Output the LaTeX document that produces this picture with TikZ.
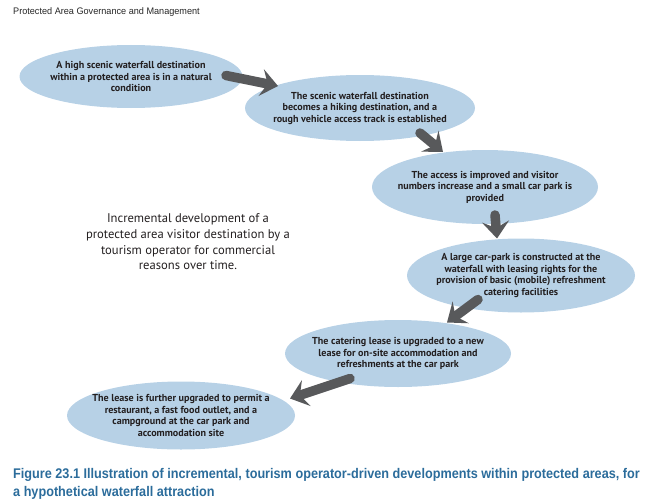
\documentclass[tikz,border=0pt]{standalone}
\usepackage{fontspec}
\setmainfont{PT Sans}
\newfontfamily\hdrfont[FakeStretch=0.96]{Liberation Sans}
\newfontfamily\capfont[FakeStretch=0.905]{Liberation Sans}
\usetikzlibrary{shapes.geometric,arrows.meta,calc}
\definecolor{bubblefill}{RGB}{183,209,230}
\definecolor{arrowgray}{RGB}{88,89,91}
\definecolor{capblue}{RGB}{43,108,155}
\definecolor{txtcol}{RGB}{35,31,32}
\begin{document}
\begin{tikzpicture}[x=1pt,y=-1pt,
  bubble/.style 2 args={ellipse, fill=bubblefill, draw=none, inner sep=0pt, minimum width=#1, minimum height=#2},
  bubtext/.style={align=center, inner sep=0pt, text=txtcol, font=\fontsize{10.1}{11.5}\selectfont\bfseries},
  flow/.style={draw=arrowgray, fill=arrowgray, line width=9.5pt, line cap=round, -{Stealth[length=17pt,width=27pt,inset=6.5pt]}},
  every node/.style={inner sep=0pt}]
\useasboundingbox (0,0) rectangle (647,503);

% header
\node[anchor=base west, font=\hdrfont\fontsize{9.5}{11}\selectfont, text=black!85] (hdr) at (13,15) {Protected Area Governance and Management};

% bubbles
\node[bubble={223pt}{63pt}] (e1) at (131,76.5) {};
\node[bubble={230pt}{66pt}] (e2) at (360,108) {};
\node[bubble={226pt}{74pt}] (e3) at (485,187) {};
\node[bubble={228pt}{74pt}] (e4) at (521,275.5) {};
\node[bubble={226pt}{67pt}] (e5) at (398,353.5) {};
\node[bubble={228pt}{68pt}] (e6) at (181,415.5) {};

\node[bubtext] (t1) at (e1) {A high scenic waterfall destination\\within a protected area is in a natural\\condition};
\node[bubtext] (t2) at (e2) {The scenic waterfall destination\\becomes a hiking destination, and a\\rough vehicle access track is established};
\node[bubtext] (t3) at (e3) {The access is improved and visitor\\numbers increase and a small car park is\\provided};
\node[bubtext] (t4) at (e4) {A large car-park is constructed at the\\waterfall with leasing rights for the\\provision of basic (mobile) refreshment\\catering facilities};
\node[bubtext] (t5) at (e5) {The catering lease is upgraded to a new\\lease for on-site accommodation and\\refreshments at the car park};
\node[bubtext] (t6) at (e6) {The lease is further upgraded to permit a\\restaurant, a fast food outlet, and a\\campground at the car park and\\accommodation site};

% arrows
\draw[flow] ($(e1.center)+(95,-1)$) -- ($(e2.center)+(-82,-22)$);
\draw[flow] ($(e2.center)+(60,25)$) -- ($(e3.center)+(-42,-35)$);
\draw[flow] ($(e3.center)+(10,28)$) -- ($(e4.center)+(-24,-37)$);
\draw[flow] ($(e4.center)+(-43,24)$) -- ($(e5.center)+(49,-31)$);
\draw[flow] ($(e5.center)+(-48,25)$) -- ($(e6.center)+(109,-17)$);

% description
\node[align=center, text=txtcol, font=\fontsize{12.6}{15.7}\selectfont] (desc) at (188,242) {Incremental development of a\\protected area visitor destination by a\\tourism operator for commercial\\reasons over time.};

% caption
\node[anchor=base west, text=capblue, font=\capfont\bfseries\fontsize{14}{18}\selectfont] (cap1) at (13,478) {Figure 23.1 Illustration of incremental, tourism operator-driven developments within protected areas, for};
\node[anchor=base west, text=capblue, font=\capfont\bfseries\fontsize{14}{18}\selectfont] (cap2) at (13,496) {a hypothetical waterfall attraction};
\end{tikzpicture}
\end{document}
